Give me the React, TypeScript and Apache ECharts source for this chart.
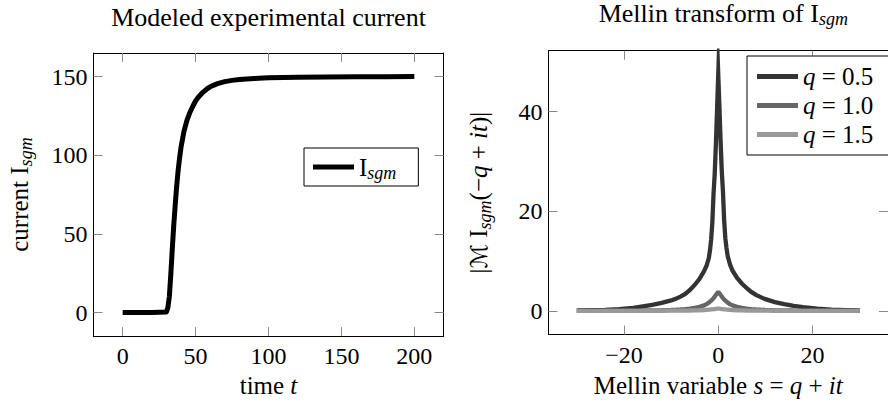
import React, { useEffect, useRef } from "react";
import * as echarts from "echarts";

// ---- data ----
const timeT = [0, 10, 20, 30, 31, 32, 33, 34, 35, 36, 37, 38, 39, 40, 41, 42, 44, 46, 48, 50, 52, 55, 58, 60, 65, 70, 75, 80, 90, 100, 110, 120, 140, 160, 180, 200];
const currentI = [0, 0, 0, 0.3, 3, 10, 24, 40, 55, 68, 80, 90, 98, 105, 110, 115, 122, 127, 131, 134.5, 137, 140, 142.3, 143.5, 145.5, 146.8, 147.6, 148.1, 148.8, 149.2, 149.45, 149.6, 149.8, 149.9, 149.95, 150];

const mellinT = [-30, -27, -24, -21, -18, -16, -14, -12, -10, -9, -8, -7, -6, -5, -4, -3, -2.5, -2, -1.75, -1.5, -1.25, -1, -0.75, -0.5, -0.25, 0, 0.25, 0.5, 0.75, 1, 1.25, 1.5, 1.75, 2, 2.5, 3, 4, 5, 6, 7, 8, 9, 10, 12, 14, 16, 18, 21, 24, 27, 30];
const mellinQ05 = [0.1, 0.14, 0.2, 0.33, 0.6, 0.9, 1.2, 1.6, 2.1, 2.45, 2.85, 3.4, 4.2, 5.2, 6.4, 8.0, 9.0, 10.6, 12.2, 14.4, 17.8, 23.5, 27.5, 33.5, 40.5, 47.5, 41, 34, 28, 24, 18.2, 14.6, 12.6, 11, 9.3, 8.1, 6.6, 5.5, 4.6, 3.8, 3.2, 2.75, 2.35, 1.75, 1.35, 1.0, 0.75, 0.45, 0.25, 0.16, 0.1];
const mellinQ10 = [0.01, 0.015, 0.02, 0.03, 0.045, 0.07, 0.1, 0.13, 0.19, 0.23, 0.28, 0.36, 0.45, 0.6, 0.82, 1.1, 1.35, 1.65, 1.85, 2.05, 2.3, 2.55, 2.85, 3.2, 3.5, 3.8, 3.5, 3.2, 2.85, 2.55, 2.3, 2.05, 1.85, 1.65, 1.35, 1.1, 0.82, 0.6, 0.45, 0.36, 0.28, 0.23, 0.19, 0.13, 0.1, 0.07, 0.045, 0.03, 0.02, 0.015, 0.01];
const mellinQ15 = [0.002, 0.003, 0.004, 0.006, 0.009, 0.012, 0.016, 0.022, 0.03, 0.04, 0.05, 0.06, 0.07, 0.09, 0.12, 0.17, 0.2, 0.24, 0.26, 0.28, 0.3, 0.33, 0.36, 0.4, 0.43, 0.45, 0.43, 0.4, 0.36, 0.33, 0.3, 0.28, 0.26, 0.24, 0.2, 0.17, 0.12, 0.09, 0.07, 0.06, 0.05, 0.04, 0.03, 0.022, 0.016, 0.012, 0.009, 0.006, 0.004, 0.003, 0.002];

const leftXTicks = [0, 50, 100, 150, 200];
const leftYTicks = [0, 50, 100, 150];
const rightXTicks = [-20, 0, 20];
const rightYTicks = [0, 20, 40];

const seriesNames = ["I_sgm", "q = 0.5", "q = 1.0", "q = 1.5"];
const legendLabels: Record<string, string> = {
  "I_sgm": "{n|I}{s|sgm}",
  "q = 0.5": "{i|q}{n| = 0.5}",
  "q = 1.0": "{i|q}{n| = 1.0}",
  "q = 1.5": "{i|q}{n| = 1.5}",
};

const FONT = "'Liberation Serif', 'Times New Roman', serif";

function makeRich(size: number, lh: number) {
  return {
    n: { fontFamily: FONT, fontSize: size, fontWeight: "normal", color: "#000", lineHeight: lh },
    i: { fontFamily: FONT, fontSize: size, fontWeight: "normal", fontStyle: "italic", color: "#000", lineHeight: lh },
    s: { fontFamily: FONT, fontSize: Math.round(size * 0.7), fontWeight: "normal", fontStyle: "italic", color: "#000", lineHeight: 18, padding: [12, 0, 0, 0] },
    m: { fontFamily: "'DejaVu Serif', 'DejaVu Sans', serif", fontSize: size - 2, fontWeight: "normal", fontStyle: "italic", color: "#000", lineHeight: lh },
  };
}

const fmt = (v: number) => (v < 0 ? "\u2212" + Math.abs(v) : String(v));

function axis(gridIndex: number, position: string, min: number, max: number, ticks: number[], labels: boolean, labelMargin: number, extra: any = {}) {
  return {
    type: "value",
    gridIndex,
    position,
    min,
    max,
    scale: false,
    axisLine: { show: true, onZero: false, lineStyle: { color: "#000", width: 1 } },
    axisTick: { show: true, inside: true, length: 9, lineStyle: { color: "#8a8a8a", width: 1 }, customValues: ticks },
    axisLabel: {
      show: labels,
      customValues: ticks,
      formatter: fmt,
      fontFamily: FONT,
      fontSize: 24,
      color: "#000",
      margin: labelMargin,
      showMinLabel: true,
      showMaxLabel: true,
    },
    splitLine: { show: false },
    ...extra,
  };
}

export default function App() {
  const ref = useRef<HTMLDivElement>(null);
  useEffect(() => {
    document.body.style.margin = "0";
    const chart = echarts.init(ref.current!, null, { renderer: "svg" });
    const rich = makeRich(25, 30);
    const titleRich = makeRich(26, 26);
    const legendRich = makeRich(25, 24);
    const option: any = {
      animation: false,
      backgroundColor: "#fff",
      title: [
        {
          text: "{n|Modeled experimental current}",
          left: 268.5,
          top: 4,
          textAlign: "center",
          padding: 0,
          textStyle: { rich: titleRich, fontWeight: "normal" },
        },
        {
          text: "{n|Mellin transform of I}{s|sgm}",
          left: 723.3,
          top: 0,
          textAlign: "center",
          padding: 0,
          textStyle: { rich: titleRich, fontWeight: "normal" },
        },
      ],
      grid: [
        { left: 93.5, top: 53, width: 350, height: 286, containLabel: false },
        { left: 548.5, top: 50.7, width: 349.5, height: 286, containLabel: false },
      ],
      xAxis: [
        axis(0, "bottom", -20, 220, leftXTicks, true, 8, {
          name: "{n|time }{i|t}",
          nameLocation: "middle",
          nameGap: 34,
          nameTextStyle: { rich },
        }),
        axis(0, "top", -20, 220, leftXTicks, false, 8),
        axis(1, "bottom", -36, 36, rightXTicks, true, 8, {
          name: "{n|Mellin variable }{i|s}{n| = }{i|q}{n| + }{i|it}",
          nameLocation: "middle",
          nameGap: 36,
          nameTextStyle: { rich },
        }),
        axis(1, "top", -36, 36, rightXTicks, false, 8),
      ],
      yAxis: [
        axis(0, "left", -15, 165, leftYTicks, true, 6, {
          name: "{n|current I}{s|sgm}",
          nameLocation: "middle",
          nameGap: 59,
          nameTextStyle: { rich },
        }),
        axis(0, "right", -15, 165, leftYTicks, false, 6),
        axis(1, "left", -4.75, 52.25, rightYTicks, true, 6, {
          name: "{n||}{m|\u2133}{n| I}{s|sgm}{n|(\u2212}{i|q}{n| + }{i|it}{n|)|}",
          nameLocation: "middle",
          nameGap: 55,
          nameTextStyle: { rich },
        }),
        axis(1, "right", -4.75, 52.25, rightYTicks, false, 6),
      ],
      legend: [
        {
          data: [seriesNames[0]],
          left: 304,
          top: 148,
          orient: "vertical",
          icon: "rect",
          itemWidth: 41,
          itemHeight: 5,
          itemGap: 0,
          padding: [4, 22, 4, 9],
          borderColor: "#000",
          borderWidth: 1,
          backgroundColor: "#fff",
          selectedMode: false,
          formatter: (name: string) => legendLabels[name],
          textStyle: { rich },
        },
        {
          data: seriesNames.slice(1),
          left: 747,
          top: 56,
          orient: "vertical",
          icon: "rect",
          itemWidth: 41,
          itemHeight: 5,
          itemGap: 4,
          padding: [8, 20, 8, 10],
          borderColor: "#000",
          borderWidth: 1,
          backgroundColor: "#fff",
          selectedMode: false,
          formatter: (name: string) => legendLabels[name],
          textStyle: { rich: legendRich },
        },
      ],
      series: [
        {
          type: "line",
          name: seriesNames[0],
          xAxisIndex: 0,
          yAxisIndex: 0,
          data: timeT.map((t, k) => [t, currentI[k]]),
          showSymbol: false,
          lineStyle: { color: "#000", width: 5, join: "round" },
          itemStyle: { color: "#000" },
        },
        {
          type: "line",
          name: seriesNames[1],
          xAxisIndex: 2,
          yAxisIndex: 2,
          data: mellinT.map((t, k) => [t, mellinQ05[k]]),
          showSymbol: false,
          lineStyle: { color: "#333333", width: 4.3, join: "miter", miterLimit: 30 },
          itemStyle: { color: "#333333" },
        },
        {
          type: "line",
          name: seriesNames[2],
          xAxisIndex: 2,
          yAxisIndex: 2,
          data: mellinT.map((t, k) => [t, mellinQ10[k]]),
          showSymbol: false,
          lineStyle: { color: "#666666", width: 4.3 },
          itemStyle: { color: "#666666" },
        },
        {
          type: "line",
          name: seriesNames[3],
          xAxisIndex: 2,
          yAxisIndex: 2,
          data: mellinT.map((t, k) => [t, mellinQ15[k]]),
          showSymbol: false,
          lineStyle: { color: "#999999", width: 4.3 },
          itemStyle: { color: "#999999" },
        },
      ],
    };
    chart.setOption(option);
    return () => chart.dispose();
  }, []);
  return <div ref={ref} style={{ width: 888, height: 403 }} />;
}
